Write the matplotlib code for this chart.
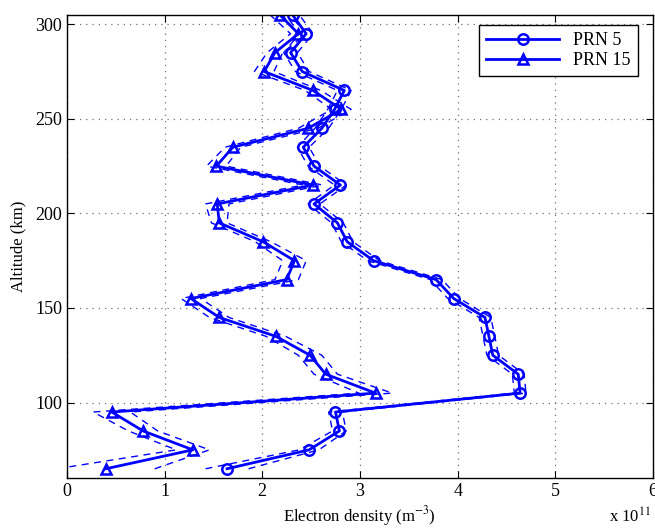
import numpy as np
import matplotlib
matplotlib.use('Agg')
import matplotlib.pyplot as plt

plt.rcParams['font.family'] = ['Liberation Serif', 'DejaVu Serif']
plt.rcParams['mathtext.fontset'] = 'stix'

# altitudes (km) and electron densities (units of 1e11 m^-3)
altitude = [65, 75, 85, 95, 105, 115, 125, 135, 145, 155, 165, 175, 185,
            195, 205, 215, 225, 235, 245, 255, 265, 275, 285, 295, 305]

prn5 = [1.64, 2.48, 2.79, 2.75, 4.64, 4.62, 4.36, 4.32, 4.28, 3.96, 3.78, 3.14, 2.87,
        2.77, 2.53, 2.80, 2.53, 2.42, 2.61, 2.74, 2.84, 2.41, 2.29, 2.45, 2.31]
prn5_err = [0.22, 0.10, 0.07, 0.07, 0.06, 0.06, 0.06, 0.06, 0.06, 0.06, 0.06, 0.06, 0.06,
            0.06, 0.06, 0.06, 0.06, 0.06, 0.07, 0.07, 0.07, 0.07, 0.07, 0.07, 0.07]

prn15 = [0.40, 1.29, 0.78, 0.46, 3.16, 2.65, 2.49, 2.14, 1.56, 1.27, 2.25, 2.33, 2.01,
         1.56, 1.54, 2.52, 1.53, 1.70, 2.47, 2.81, 2.52, 2.02, 2.13, 2.37, 2.18]
prn15_err = [0.50, 0.17, 0.15, 0.19, 0.17, 0.12, 0.12, 0.10, 0.10, 0.10, 0.12, 0.12, 0.08,
             0.08, 0.12, 0.10, 0.10, 0.08, 0.10, 0.10, 0.08, 0.10, 0.08, 0.08, 0.10]

fig = plt.figure(figsize=(6.55, 5.29), dpi=100)
ax = fig.add_axes([0.102, 0.096, 0.895, 0.876])

blue = (0, 0, 1)
for vals, err, mk, lab in [(prn5, prn5_err, 'o', 'PRN 5'), (prn15, prn15_err, '^', 'PRN 15')]:
    v = np.array(vals)
    e = np.array(err)
    ax.plot(v, altitude, color=blue, lw=2, marker=mk, ms=7.5, mfc='none', mew=1.8, label=lab)
    ax.plot(v - e, altitude, color=blue, lw=1, ls=(0, (5, 4)))
    ax.plot(v + e, altitude, color=blue, lw=1, ls=(0, (5, 4)))

ax.set_xlim(0, 6)
ax.set_ylim(60, 305)
ax.set_xticks(range(7))
ax.set_yticks([100, 150, 200, 250, 300])
ax.tick_params(direction='in', top=True, right=True, labelsize=13, length=5)
ax.grid(True, color='#707070', ls=(0, (1, 4)), lw=0.9)
for s in ax.spines.values():
    s.set_linewidth(1.0)

ax.set_xlabel('Electron density (m$^{-3}$)', fontsize=12, labelpad=3)
ax.set_ylabel('Altitude (km)', fontsize=12, labelpad=6)
fig.text(0.93, 0.012, 'x 10$^{11}$', fontsize=12)

leg = ax.legend(loc='upper right', fontsize=13, handlelength=4.0, fancybox=False,
                framealpha=1, edgecolor='black', borderpad=0.4, labelspacing=0.15,
                borderaxespad=0, bbox_to_anchor=(0.974, 0.978))
leg.get_frame().set_linewidth(1.0)

fig.savefig('out.png', dpi=100)
